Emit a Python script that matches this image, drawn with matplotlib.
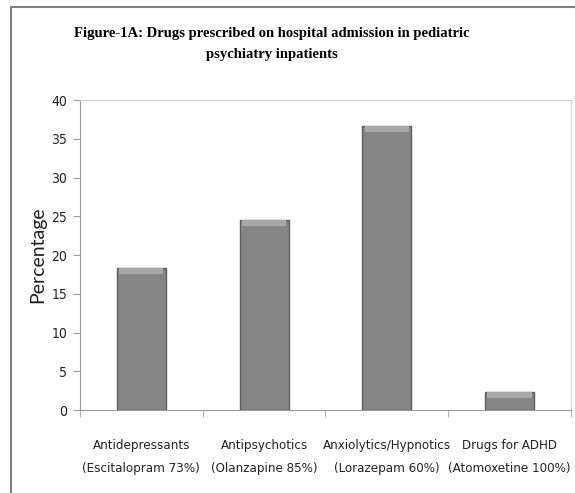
import numpy as np
import matplotlib
matplotlib.use('Agg')
import matplotlib.pyplot as plt
from matplotlib.patches import Rectangle

# Data
categories = ["Antidepressants\n(Escitalopram 73%)",
              "Antipsychotics\n(Olanzapine 85%)",
              "Anxiolytics/Hypnotics\n(Lorazepam 60%)",
              "Drugs for ADHD\n(Atomoxetine 100%)"]
percentages = [18.4, 24.5, 36.7, 2.4]
yticks = [0, 5, 10, 15, 20, 25, 30, 35, 40]

title = "Figure-1A: Drugs prescribed on hospital admission in pediatric\npsychiatry inpatients"

fig = plt.figure(figsize=(5.75, 4.93), dpi=100)
ax = fig.add_axes([0.139, 0.168, 0.854, 0.629])

x = np.arange(len(categories))
ax.bar(x, percentages, width=0.4, color='#858585', edgecolor='#5e5e5e', linewidth=1.0, zorder=3)
# light bevel at top of each bar
ax.bar(x, [0.8] * len(x), bottom=np.array(percentages) - 0.8, width=0.36,
       color='#a8a8a8', linewidth=0, zorder=4)

ax.set_xlim(-0.5, 3.5)
ax.set_ylim(0, 40)
ax.set_yticks(yticks)
ax.set_yticklabels([str(t) for t in yticks], family='DejaVu Sans', fontstretch='condensed',
                   fontsize=10, color='#222222')
ax.set_xticks(x)
ax.set_xticklabels(categories, family='DejaVu Sans', fontstretch='condensed',
                   fontsize=9.5, color='#222222', linespacing=2.0)
ax.set_xticks(np.arange(-0.5, 4, 1), minor=True)
ax.tick_params(axis='x', which='major', length=0, pad=21)
ax.tick_params(axis='x', which='minor', length=5, color='#a0a0a0', direction='out')
ax.tick_params(axis='y', length=5, color='#a0a0a0', direction='out', pad=4)

for side in ['left', 'bottom']:
    ax.spines[side].set_color('#9a9a9a')
for side in ['top', 'right']:
    ax.spines[side].set_color('#cfcfcf')

ax.set_ylabel("Percentage", family=['Lato', 'DejaVu Sans'], fontsize=14, labelpad=4, color='#222222')

fig.text(0.473, 0.911, title, ha='center', va='center', family='Liberation Serif',
         fontweight='bold', fontsize=10.5, linespacing=1.85)

# outer frame
fig.patches.append(Rectangle((11 / 575, -0.1), 1.2, 1.1 - 7 / 493, transform=fig.transFigure,
                             fill=False, edgecolor='#7f7f7f', linewidth=1.5))

plt.savefig("out.png", dpi=100)
